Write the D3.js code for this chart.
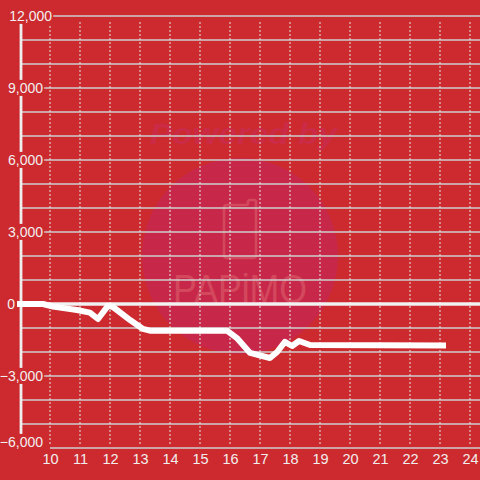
<!DOCTYPE html>
<html><head><meta charset="utf-8">
<script src="https://cdn.jsdelivr.net/npm/d3@7"></script>
<style>html,body{margin:0;padding:0;background:#cc2a2e;}svg{display:block;}</style>
</head><body>
<script>
const times = [9, 9.77, 10.1, 10.9, 11.33, 11.6, 11.93, 12.1, 12.67, 13.1, 13.33, 15.9, 16.23, 16.67, 17.33, 17.57, 17.83, 18.07, 18.3, 18.67, 23.1];
const values = [0, 0, -110, -250, -360, -625, -80, -125, -670, -1040, -1110, -1110, -1420, -2040, -2250, -2000, -1580, -1750, -1540, -1710, -1730];
const xTicks = [10,11,12,13,14,15,16,17,18,19,20,21,22,23,24];
const yLabelTicks = [12000, 9000, 6000, 3000, 0, -3000, -6000];
const yGridTicks = d3.range(-6000, 12001, 1000);

const W = 480, H = 480;
const bg = "#cc2a2e";
const svg = d3.select("body").append("svg").attr("width", W).attr("height", H);
svg.append("rect").attr("width", W).attr("height", H).attr("fill", bg);

const x = d3.scaleLinear().domain([9, 24]).range([20, 470]);
const y = d3.scaleLinear().domain([-6000, 12000]).range([448, 16]);

// watermark
const wm = svg.append("g");
wm.append("circle").attr("cx", 240).attr("cy", 256).attr("r", 98).attr("fill", "#c7284a");
wm.append("text").attr("x", 150).attr("y", 144).attr("textLength", 187).attr("lengthAdjust", "spacingAndGlyphs")
  .attr("font-family", "Liberation Sans, Arial, sans-serif").attr("font-weight", "bold").attr("font-style", "italic")
  .attr("font-size", 30).attr("fill", "#cb2b47").text("Powered by");
wm.append("path").attr("d", "M227,205 h19 q2,0 2,-2 v-1 q0,-2 2,-2 h4 q2,0 2,2 v53 q0,3 -3,3 h-26 q-3,0 -3,-3 v-47 q0,-3 3,-3 z")
  .attr("fill", "none").attr("stroke", "#d4485e").attr("stroke-width", 2.5);
wm.append("text").attr("x", 173).attr("y", 303).attr("textLength", 134).attr("lengthAdjust", "spacingAndGlyphs")
  .attr("font-family", "Liberation Sans Narrow, Liberation Sans, sans-serif").attr("font-size", 41)
  .attr("fill", "#d4485e").text("PAPiMO");

// horizontal grid
svg.append("g").selectAll("line").data(yGridTicks.filter(d => d !== 0)).join("line")
  .attr("x1", d => d === -6000 ? x(10) : x(9) + 1).attr("x2", W)
  .attr("y1", d => y(d)).attr("y2", d => y(d))
  .attr("stroke", "#cfcfcf").attr("stroke-width", 1.5);

// vertical dashed grid
svg.append("g").selectAll("line").data(xTicks).join("line")
  .attr("x1", d => x(d)).attr("x2", d => x(d))
  .attr("y1", 22).attr("y2", 446)
  .attr("stroke", "#e6e6e6").attr("stroke-width", 1).attr("stroke-dasharray", "2,2");

// y axis line
svg.append("line").attr("x1", x(9) + 1).attr("x2", x(9) + 1).attr("y1", 10).attr("y2", 434)
  .attr("stroke", "#eeeeee").attr("stroke-width", 2.8);

// zero line
svg.append("line").attr("x1", 17).attr("x2", W).attr("y1", y(0)).attr("y2", y(0))
  .attr("stroke", "#f2f2f2").attr("stroke-width", 3.5);

// data line
const line = d3.line().x((d, i) => x(times[i])).y(d => y(d));
svg.append("path").datum(values).attr("d", line)
  .attr("fill", "none").attr("stroke", "#ffffff").attr("stroke-width", 6)
  .attr("stroke-linecap", "square").attr("stroke-linejoin", "round");

// y labels with background
const yEnd = d => d === 12000 ? 52 : (d === 0 ? 15 : 43);
const yShift = d => d === -6000 ? -6 : 0;
const yl = svg.append("g").selectAll("g").data(yLabelTicks).join("g");
yl.append("text")
  .attr("x", d => yEnd(d)).attr("y", d => y(d) + yShift(d)).attr("dy", "0.35em")
  .attr("text-anchor", "end").attr("font-family", "Liberation Sans, Arial, sans-serif")
  .attr("font-size", 14).attr("fill", "#f3eeee").text(d => d3.format(",")(d))
  .each(function () {
    const b = this.getBBox();
    d3.select(this.parentNode).insert("rect", "text")
      .attr("x", b.x - 1).attr("y", b.y).attr("width", b.width + 2).attr("height", b.height)
      .attr("fill", bg);
  });

// x labels
const xa = svg.append("g").attr("transform", `translate(0,${448})`)
  .call(d3.axisBottom(x).tickValues(xTicks).tickSize(0).tickPadding(6).tickFormat(d3.format("d")));
xa.select(".domain").remove();
xa.selectAll("text").attr("font-family", "Liberation Sans, Arial, sans-serif")
  .attr("font-size", 14.5).attr("fill", "#f3eeee");
</script>
</body></html>
